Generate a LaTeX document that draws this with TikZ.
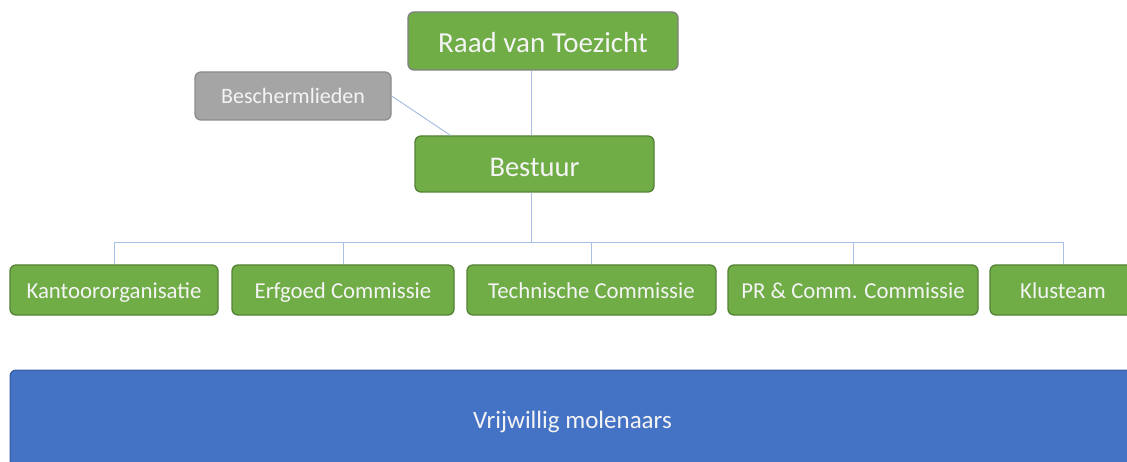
\documentclass[tikz,border=0pt]{standalone}
\usepackage{fontspec}
\setmainfont{Carlito}
\usetikzlibrary{calc}
\definecolor{grn}{HTML}{70AD47}
\definecolor{grnd}{HTML}{548235}
\definecolor{gryb}{HTML}{7F7F7F}
\definecolor{gryf}{HTML}{A5A5A5}
\definecolor{blu}{HTML}{4472C4}
\definecolor{lnk}{HTML}{A9BFE6}
\definecolor{txt}{HTML}{F4F4F4}
\tikzset{
  box/.style={rectangle, rounded corners=6pt, draw=grnd, fill=grn, line width=1.3pt,
    text=txt, inner sep=0pt, anchor=center, text depth=0pt},
  rowbox/.style={box, minimum height=50pt, text height=16pt, font=\fontsize{22.8}{26}\selectfont},
  link/.style={draw=lnk, line width=1pt}
}
\begin{document}
\begin{tikzpicture}[x=1pt,y=1pt]
\useasboundingbox (0,0) rectangle (1127,461);
\clip (0,0) rectangle (1127,461);
\fill[white] (0,0) rectangle (1127,461);
\node[box, draw=gryb, minimum width=270pt, minimum height=58pt, text height=23pt, font=\fontsize{29}{33}\selectfont] (raad) at (543,420) {Raad van Toezicht};
\node[box, draw=gryf!85!black, fill=gryf, minimum width=196pt, minimum height=48pt, text height=16pt, font=\fontsize{22}{26}\selectfont] (besch) at (293,365) {Beschermlieden};
\node[box, minimum width=239pt, minimum height=56pt, text height=25pt, font=\fontsize{28.5}{33}\selectfont] (bestuur) at (534.5,297) {Bestuur};
\coordinate (trunk) at (531,0);
\coordinate (bus) at (0,218);
\node[rowbox, minimum width=208pt] (kant) at (114,171) {Kantoororganisatie};
\node[rowbox, minimum width=222pt] (erf) at (343,171) {Erfgoed Commissie};
\node[rowbox, minimum width=249pt] (tech) at (591.5,171) {Technische Commissie};
\node[rowbox, minimum width=250pt] (pr) at (853,171) {PR \& Comm. Commissie};
\node[rowbox, minimum width=146pt] (klus) at (1063,171) {Klusteam};
\node[box, draw=blu!80!black, fill=blu, line width=1pt, minimum width=1125pt, minimum height=100pt, text height=17pt, font=\fontsize{25}{29}\selectfont] (vrij) at (572.5,41) {Vrijwillig molenaars};
\path[link] (raad.south -| trunk) -- (bestuur.north -| trunk);
\path[link] (besch.east) -- ($(bestuur.north west)+(36,0)$);
\path[link] (bestuur.south -| trunk) -- (bus -| trunk);
\path[link] (kant.north) -- (kant.north |- bus) -- (klus.north |- bus) -- (klus.north);
\path[link] (erf.north) -- (erf.north |- bus);
\path[link] (tech.north) -- (tech.north |- bus);
\path[link] (pr.north) -- (pr.north |- bus);
\end{tikzpicture}
\end{document}
